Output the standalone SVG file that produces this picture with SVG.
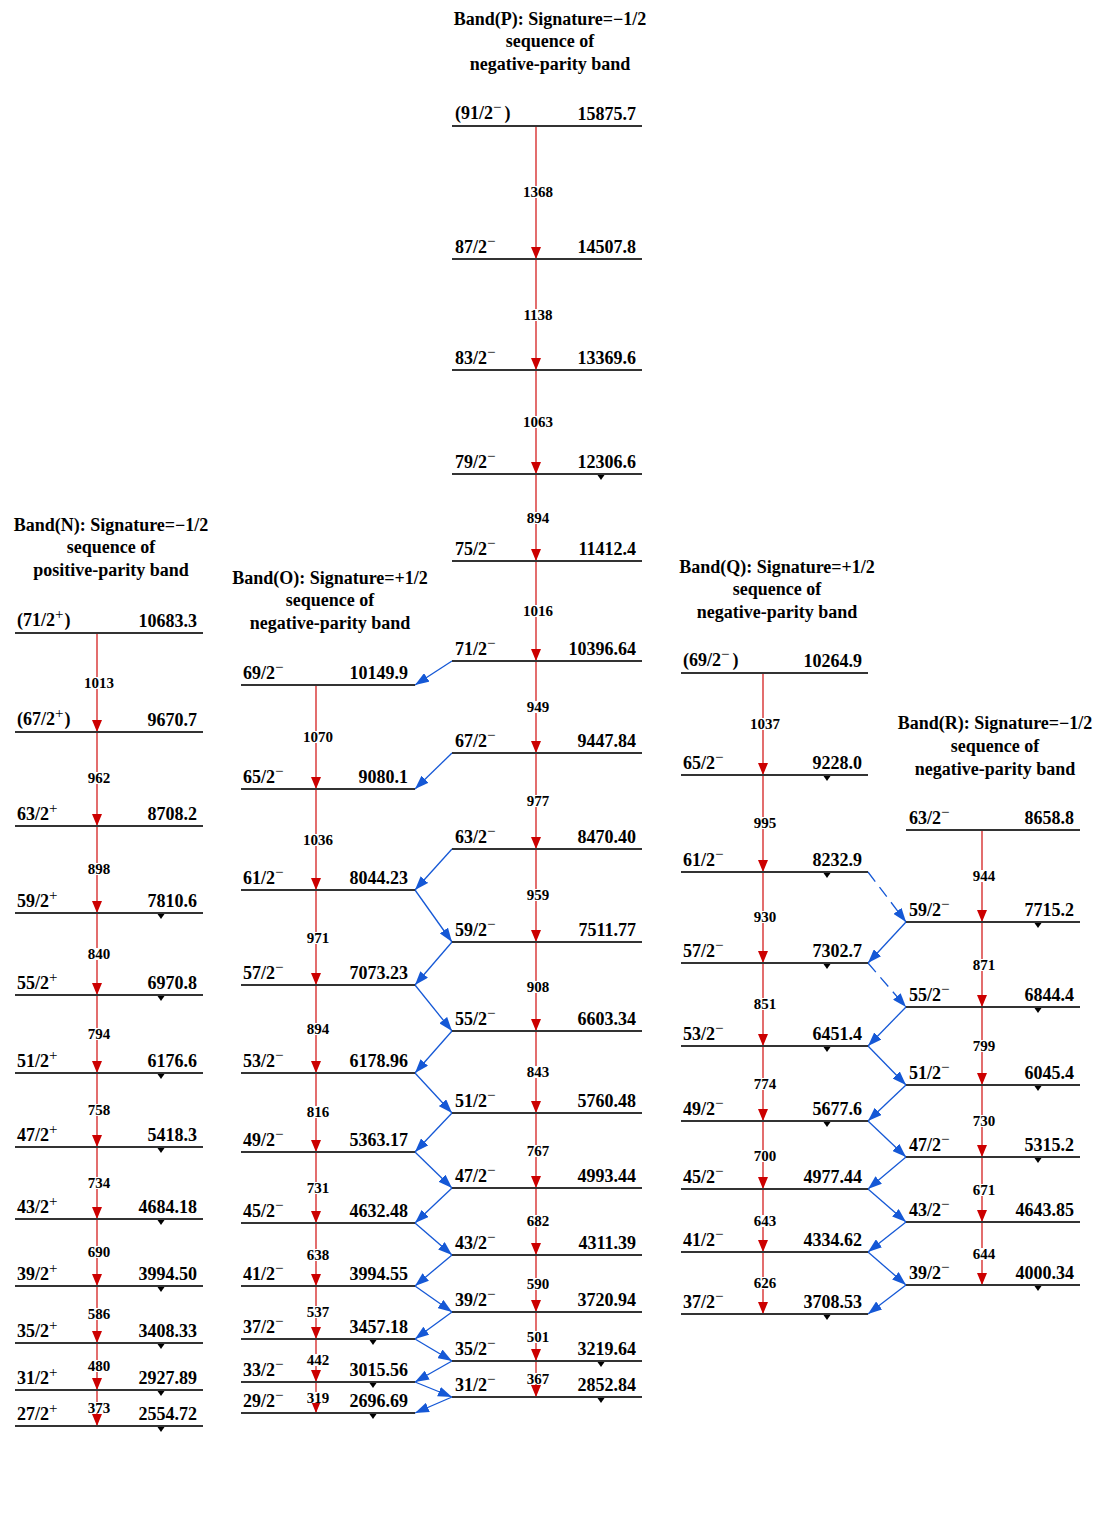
<svg xmlns="http://www.w3.org/2000/svg" xmlns:xlink="http://www.w3.org/1999/xlink" width="1098" height="1520" viewBox="0 0 1098 1520">
<style>
.t{font-family:"Liberation Serif","Times New Roman",serif;font-weight:bold;font-size:18px;fill:#000}
.ti{text-anchor:middle}
.e{text-anchor:end}
.s{font-size:15px;font-weight:normal}
.g{font-family:"Liberation Serif","Times New Roman",serif;font-weight:bold;font-size:15px;text-anchor:middle;fill:#000}
.lv{stroke:#333;stroke-width:1.8}
.rl{stroke:#d42020;stroke-width:1.3;marker-end:url(#rh)}
.bl{stroke:#1558d6;stroke-width:1.3;fill:none;marker-end:url(#bh)}
.dl{stroke-dasharray:12 7}
.wb{fill:#fff}
</style>
<defs>
<marker id="rh" viewBox="0 0 12 10" refX="12" refY="5" markerWidth="12" markerHeight="10" markerUnits="userSpaceOnUse" orient="auto"><path d="M0,0 L12,5 L0,10 Z" fill="#cc0000"/></marker>
<marker id="bh" viewBox="0 0 14 10" refX="14" refY="5" markerWidth="14" markerHeight="10" markerUnits="userSpaceOnUse" orient="auto"><path d="M0,0 L14,5 L0,10 Z" fill="#1558d6"/></marker>
<path id="tk" d="M-3.5,1 L3.5,1 L0,6 Z" fill="#000"/>
</defs>
<rect width="1098" height="1520" fill="#fff"/>

<g id="titles">
<g id="title-N"><text class="t ti" x="111" y="531">Band(N): Signature=−1/2</text><text class="t ti" x="111" y="553">sequence of</text><text class="t ti" x="111" y="576">positive-parity band</text></g>
<g id="title-O"><text class="t ti" x="330" y="584">Band(O): Signature=+1/2</text><text class="t ti" x="330" y="606">sequence of</text><text class="t ti" x="330" y="629">negative-parity band</text></g>
<g id="title-P"><text class="t ti" x="550" y="25">Band(P): Signature=−1/2</text><text class="t ti" x="550" y="47">sequence of</text><text class="t ti" x="550" y="70">negative-parity band</text></g>
<g id="title-Q"><text class="t ti" x="777" y="573">Band(Q): Signature=+1/2</text><text class="t ti" x="777" y="595">sequence of</text><text class="t ti" x="777" y="618">negative-parity band</text></g>
<g id="title-R"><text class="t ti" x="995" y="729">Band(R): Signature=−1/2</text><text class="t ti" x="995" y="752">sequence of</text><text class="t ti" x="995" y="775">negative-parity band</text></g>
</g>

<g id="connectors">
<!-- Band N -->
<line class="rl" x1="97" y1="633" x2="97" y2="732"/>
<line class="rl" x1="97" y1="732" x2="97" y2="826"/>
<line class="rl" x1="97" y1="826" x2="97" y2="913"/>
<line class="rl" x1="97" y1="913" x2="97" y2="995"/>
<line class="rl" x1="97" y1="995" x2="97" y2="1073"/>
<line class="rl" x1="97" y1="1073" x2="97" y2="1147"/>
<line class="rl" x1="97" y1="1147" x2="97" y2="1219"/>
<line class="rl" x1="97" y1="1219" x2="97" y2="1286"/>
<line class="rl" x1="97" y1="1286" x2="97" y2="1343"/>
<line class="rl" x1="97" y1="1343" x2="97" y2="1390"/>
<line class="rl" x1="97" y1="1390" x2="97" y2="1426"/>
<!-- Band O -->
<line class="rl" x1="316" y1="685" x2="316" y2="789"/>
<line class="rl" x1="316" y1="789" x2="316" y2="890"/>
<line class="rl" x1="316" y1="890" x2="316" y2="985"/>
<line class="rl" x1="316" y1="985" x2="316" y2="1073"/>
<line class="rl" x1="316" y1="1073" x2="316" y2="1152"/>
<line class="rl" x1="316" y1="1152" x2="316" y2="1223"/>
<line class="rl" x1="316" y1="1223" x2="316" y2="1286"/>
<line class="rl" x1="316" y1="1286" x2="316" y2="1339"/>
<line class="rl" x1="316" y1="1339" x2="316" y2="1382"/>
<line class="rl" x1="316" y1="1382" x2="316" y2="1413"/>
<!-- Band P -->
<line class="rl" x1="536" y1="126" x2="536" y2="259"/>
<line class="rl" x1="536" y1="259" x2="536" y2="370"/>
<line class="rl" x1="536" y1="370" x2="536" y2="474"/>
<line class="rl" x1="536" y1="474" x2="536" y2="561"/>
<line class="rl" x1="536" y1="561" x2="536" y2="661"/>
<line class="rl" x1="536" y1="661" x2="536" y2="753"/>
<line class="rl" x1="536" y1="753" x2="536" y2="849"/>
<line class="rl" x1="536" y1="849" x2="536" y2="942"/>
<line class="rl" x1="536" y1="942" x2="536" y2="1031"/>
<line class="rl" x1="536" y1="1031" x2="536" y2="1113"/>
<line class="rl" x1="536" y1="1113" x2="536" y2="1188"/>
<line class="rl" x1="536" y1="1188" x2="536" y2="1255"/>
<line class="rl" x1="536" y1="1255" x2="536" y2="1312"/>
<line class="rl" x1="536" y1="1312" x2="536" y2="1361"/>
<line class="rl" x1="536" y1="1361" x2="536" y2="1397"/>
<!-- Band Q -->
<line class="rl" x1="763" y1="673" x2="763" y2="775"/>
<line class="rl" x1="763" y1="775" x2="763" y2="872"/>
<line class="rl" x1="763" y1="872" x2="763" y2="963"/>
<line class="rl" x1="763" y1="963" x2="763" y2="1046"/>
<line class="rl" x1="763" y1="1046" x2="763" y2="1121"/>
<line class="rl" x1="763" y1="1121" x2="763" y2="1189"/>
<line class="rl" x1="763" y1="1189" x2="763" y2="1252"/>
<line class="rl" x1="763" y1="1252" x2="763" y2="1314"/>
<!-- Band R -->
<line class="rl" x1="982" y1="830" x2="982" y2="922"/>
<line class="rl" x1="982" y1="922" x2="982" y2="1007"/>
<line class="rl" x1="982" y1="1007" x2="982" y2="1085"/>
<line class="rl" x1="982" y1="1085" x2="982" y2="1157"/>
<line class="rl" x1="982" y1="1157" x2="982" y2="1222"/>
<line class="rl" x1="982" y1="1222" x2="982" y2="1285"/>

<!-- Blue O-P links -->
<line class="bl" x1="452" y1="661" x2="415" y2="685"/>
<line class="bl" x1="452" y1="753" x2="415" y2="789"/>
<line class="bl" x1="452" y1="849" x2="415" y2="890"/>
<line class="bl" x1="415" y1="890" x2="452" y2="942"/>
<line class="bl" x1="452" y1="942" x2="415" y2="985"/>
<line class="bl" x1="415" y1="985" x2="452" y2="1031"/>
<line class="bl" x1="452" y1="1031" x2="415" y2="1073"/>
<line class="bl" x1="415" y1="1073" x2="452" y2="1113"/>
<line class="bl" x1="452" y1="1113" x2="415" y2="1152"/>
<line class="bl" x1="415" y1="1152" x2="452" y2="1188"/>
<line class="bl" x1="452" y1="1188" x2="415" y2="1223"/>
<line class="bl" x1="415" y1="1223" x2="452" y2="1255"/>
<line class="bl" x1="452" y1="1255" x2="415" y2="1286"/>
<line class="bl" x1="415" y1="1286" x2="452" y2="1312"/>
<line class="bl" x1="452" y1="1312" x2="415" y2="1339"/>
<line class="bl" x1="415" y1="1339" x2="452" y2="1361"/>
<line class="bl" x1="452" y1="1361" x2="415" y2="1382"/>
<line class="bl" x1="415" y1="1382" x2="452" y2="1397"/>
<line class="bl" x1="452" y1="1397" x2="415" y2="1413"/>
<!-- Blue Q-R links -->
<line class="bl dl" x1="868" y1="872" x2="906" y2="922"/>
<line class="bl" x1="906" y1="922" x2="868" y2="963"/>
<line class="bl dl" x1="868" y1="963" x2="906" y2="1007"/>
<line class="bl" x1="906" y1="1007" x2="868" y2="1046"/>
<line class="bl" x1="868" y1="1046" x2="906" y2="1085"/>
<line class="bl" x1="906" y1="1085" x2="868" y2="1121"/>
<line class="bl" x1="868" y1="1121" x2="906" y2="1157"/>
<line class="bl" x1="906" y1="1157" x2="868" y2="1189"/>
<line class="bl" x1="868" y1="1189" x2="906" y2="1222"/>
<line class="bl" x1="906" y1="1222" x2="868" y2="1252"/>
<line class="bl" x1="868" y1="1252" x2="906" y2="1285"/>
<line class="bl" x1="906" y1="1285" x2="868" y2="1314"/>

<!-- Transition labels -->
<g id="labels-N">
<rect class="wb" x="83" y="677" width="32" height="12"/><text class="g" x="99" y="688">1013</text>
<rect class="wb" x="87" y="772" width="24" height="12"/><text class="g" x="99" y="783">962</text>
<rect class="wb" x="87" y="863" width="24" height="12"/><text class="g" x="99" y="874">898</text>
<rect class="wb" x="87" y="948" width="24" height="12"/><text class="g" x="99" y="959">840</text>
<rect class="wb" x="87" y="1028" width="24" height="12"/><text class="g" x="99" y="1039">794</text>
<rect class="wb" x="87" y="1104" width="24" height="12"/><text class="g" x="99" y="1115">758</text>
<rect class="wb" x="87" y="1177" width="24" height="12"/><text class="g" x="99" y="1188">734</text>
<rect class="wb" x="87" y="1246" width="24" height="12"/><text class="g" x="99" y="1257">690</text>
<rect class="wb" x="87" y="1308" width="24" height="12"/><text class="g" x="99" y="1319">586</text>
<rect class="wb" x="87" y="1360" width="24" height="12"/><text class="g" x="99" y="1371">480</text>
<rect class="wb" x="87" y="1402" width="24" height="11"/><text class="g" x="99" y="1413">373</text>
</g>
<g id="labels-O">
<rect class="wb" x="302" y="731" width="32" height="12"/><text class="g" x="318" y="742">1070</text>
<rect class="wb" x="302" y="834" width="32" height="12"/><text class="g" x="318" y="845">1036</text>
<rect class="wb" x="306" y="932" width="24" height="12"/><text class="g" x="318" y="943">971</text>
<rect class="wb" x="306" y="1023" width="24" height="12"/><text class="g" x="318" y="1034">894</text>
<rect class="wb" x="306" y="1106" width="24" height="12"/><text class="g" x="318" y="1117">816</text>
<rect class="wb" x="306" y="1182" width="24" height="12"/><text class="g" x="318" y="1193">731</text>
<rect class="wb" x="306" y="1249" width="24" height="12"/><text class="g" x="318" y="1260">638</text>
<rect class="wb" x="306" y="1306" width="24" height="12"/><text class="g" x="318" y="1317">537</text>
<rect class="wb" x="306" y="1354" width="24" height="12"/><text class="g" x="318" y="1365">442</text>
<rect class="wb" x="306" y="1392" width="24" height="11"/><text class="g" x="318" y="1403">319</text>
</g>
<g id="labels-P">
<rect class="wb" x="522" y="186" width="32" height="12"/><text class="g" x="538" y="197">1368</text>
<rect class="wb" x="522" y="309" width="32" height="12"/><text class="g" x="538" y="320">1138</text>
<rect class="wb" x="522" y="416" width="32" height="12"/><text class="g" x="538" y="427">1063</text>
<rect class="wb" x="526" y="512" width="24" height="12"/><text class="g" x="538" y="523">894</text>
<rect class="wb" x="522" y="605" width="32" height="12"/><text class="g" x="538" y="616">1016</text>
<rect class="wb" x="526" y="701" width="24" height="12"/><text class="g" x="538" y="712">949</text>
<rect class="wb" x="526" y="795" width="24" height="12"/><text class="g" x="538" y="806">977</text>
<rect class="wb" x="526" y="889" width="24" height="12"/><text class="g" x="538" y="900">959</text>
<rect class="wb" x="526" y="981" width="24" height="12"/><text class="g" x="538" y="992">908</text>
<rect class="wb" x="526" y="1066" width="24" height="12"/><text class="g" x="538" y="1077">843</text>
<rect class="wb" x="526" y="1145" width="24" height="12"/><text class="g" x="538" y="1156">767</text>
<rect class="wb" x="526" y="1215" width="24" height="12"/><text class="g" x="538" y="1226">682</text>
<rect class="wb" x="526" y="1278" width="24" height="12"/><text class="g" x="538" y="1289">590</text>
<rect class="wb" x="526" y="1331" width="24" height="12"/><text class="g" x="538" y="1342">501</text>
<rect class="wb" x="526" y="1373" width="24" height="11"/><text class="g" x="538" y="1384">367</text>
</g>
<g id="labels-Q">
<rect class="wb" x="749" y="718" width="32" height="12"/><text class="g" x="765" y="729">1037</text>
<rect class="wb" x="753" y="817" width="24" height="12"/><text class="g" x="765" y="828">995</text>
<rect class="wb" x="753" y="911" width="24" height="12"/><text class="g" x="765" y="922">930</text>
<rect class="wb" x="753" y="998" width="24" height="12"/><text class="g" x="765" y="1009">851</text>
<rect class="wb" x="753" y="1078" width="24" height="12"/><text class="g" x="765" y="1089">774</text>
<rect class="wb" x="753" y="1150" width="24" height="12"/><text class="g" x="765" y="1161">700</text>
<rect class="wb" x="753" y="1215" width="24" height="12"/><text class="g" x="765" y="1226">643</text>
<rect class="wb" x="753" y="1277" width="24" height="12"/><text class="g" x="765" y="1288">626</text>
</g>
<g id="labels-R">
<rect class="wb" x="972" y="870" width="24" height="12"/><text class="g" x="984" y="881">944</text>
<rect class="wb" x="972" y="959" width="24" height="12"/><text class="g" x="984" y="970">871</text>
<rect class="wb" x="972" y="1040" width="24" height="12"/><text class="g" x="984" y="1051">799</text>
<rect class="wb" x="972" y="1115" width="24" height="12"/><text class="g" x="984" y="1126">730</text>
<rect class="wb" x="972" y="1184" width="24" height="12"/><text class="g" x="984" y="1195">671</text>
<rect class="wb" x="972" y="1248" width="24" height="12"/><text class="g" x="984" y="1259">644</text>
</g>
</g>

<!-- Band N levels -->
<g id="N-71"><line class="lv" x1="15" y1="633" x2="203" y2="633"/><text class="t" x="17" y="626">(71/2<tspan class="s" dy="-7">+</tspan><tspan dx="1" dy="7">)</tspan></text><text class="t e" x="197" y="627">10683.3</text></g>
<g id="N-67"><line class="lv" x1="15" y1="732" x2="203" y2="732"/><text class="t" x="17" y="725">(67/2<tspan class="s" dy="-7">+</tspan><tspan dx="1" dy="7">)</tspan></text><text class="t e" x="197" y="726">9670.7</text></g>
<g id="N-63"><line class="lv" x1="15" y1="826" x2="203" y2="826"/><text class="t" x="17" y="820">63/2<tspan class="s" dy="-7">+</tspan></text><text class="t e" x="197" y="820">8708.2</text></g>
<g id="N-59"><line class="lv" x1="15" y1="913" x2="203" y2="913"/><text class="t" x="17" y="907">59/2<tspan class="s" dy="-7">+</tspan></text><text class="t e" x="197" y="907">7810.6</text><use href="#tk" x="161" y="913"/></g>
<g id="N-55"><line class="lv" x1="15" y1="995" x2="203" y2="995"/><text class="t" x="17" y="989">55/2<tspan class="s" dy="-7">+</tspan></text><text class="t e" x="197" y="989">6970.8</text><use href="#tk" x="161" y="995"/></g>
<g id="N-51"><line class="lv" x1="15" y1="1073" x2="203" y2="1073"/><text class="t" x="17" y="1067">51/2<tspan class="s" dy="-7">+</tspan></text><text class="t e" x="197" y="1067">6176.6</text><use href="#tk" x="161" y="1073"/></g>
<g id="N-47"><line class="lv" x1="15" y1="1147" x2="203" y2="1147"/><text class="t" x="17" y="1141">47/2<tspan class="s" dy="-7">+</tspan></text><text class="t e" x="197" y="1141">5418.3</text><use href="#tk" x="161" y="1147"/></g>
<g id="N-43"><line class="lv" x1="15" y1="1219" x2="203" y2="1219"/><text class="t" x="17" y="1213">43/2<tspan class="s" dy="-7">+</tspan></text><text class="t e" x="197" y="1213">4684.18</text><use href="#tk" x="161" y="1219"/></g>
<g id="N-39"><line class="lv" x1="15" y1="1286" x2="203" y2="1286"/><text class="t" x="17" y="1280">39/2<tspan class="s" dy="-7">+</tspan></text><text class="t e" x="197" y="1280">3994.50</text><use href="#tk" x="161" y="1286"/></g>
<g id="N-35"><line class="lv" x1="15" y1="1343" x2="203" y2="1343"/><text class="t" x="17" y="1337">35/2<tspan class="s" dy="-7">+</tspan></text><text class="t e" x="197" y="1337">3408.33</text><use href="#tk" x="161" y="1343"/></g>
<g id="N-31"><line class="lv" x1="15" y1="1390" x2="203" y2="1390"/><text class="t" x="17" y="1384">31/2<tspan class="s" dy="-7">+</tspan></text><text class="t e" x="197" y="1384">2927.89</text><use href="#tk" x="161" y="1390"/></g>
<g id="N-27"><line class="lv" x1="15" y1="1426" x2="203" y2="1426"/><text class="t" x="17" y="1420">27/2<tspan class="s" dy="-7">+</tspan></text><text class="t e" x="197" y="1420">2554.72</text><use href="#tk" x="161" y="1426"/></g>

<!-- Band O levels -->
<g id="O-69"><line class="lv" x1="241" y1="685" x2="415" y2="685"/><text class="t" x="243" y="679">69/2<tspan class="s" dy="-7">−</tspan></text><text class="t e" x="408" y="679">10149.9</text></g>
<g id="O-65"><line class="lv" x1="241" y1="789" x2="415" y2="789"/><text class="t" x="243" y="783">65/2<tspan class="s" dy="-7">−</tspan></text><text class="t e" x="408" y="783">9080.1</text></g>
<g id="O-61"><line class="lv" x1="241" y1="890" x2="415" y2="890"/><text class="t" x="243" y="884">61/2<tspan class="s" dy="-7">−</tspan></text><text class="t e" x="408" y="884">8044.23</text></g>
<g id="O-57"><line class="lv" x1="241" y1="985" x2="415" y2="985"/><text class="t" x="243" y="979">57/2<tspan class="s" dy="-7">−</tspan></text><text class="t e" x="408" y="979">7073.23</text></g>
<g id="O-53"><line class="lv" x1="241" y1="1073" x2="415" y2="1073"/><text class="t" x="243" y="1067">53/2<tspan class="s" dy="-7">−</tspan></text><text class="t e" x="408" y="1067">6178.96</text></g>
<g id="O-49"><line class="lv" x1="241" y1="1152" x2="415" y2="1152"/><text class="t" x="243" y="1146">49/2<tspan class="s" dy="-7">−</tspan></text><text class="t e" x="408" y="1146">5363.17</text></g>
<g id="O-45"><line class="lv" x1="241" y1="1223" x2="415" y2="1223"/><text class="t" x="243" y="1217">45/2<tspan class="s" dy="-7">−</tspan></text><text class="t e" x="408" y="1217">4632.48</text></g>
<g id="O-41"><line class="lv" x1="241" y1="1286" x2="415" y2="1286"/><text class="t" x="243" y="1280">41/2<tspan class="s" dy="-7">−</tspan></text><text class="t e" x="408" y="1280">3994.55</text></g>
<g id="O-37"><line class="lv" x1="241" y1="1339" x2="415" y2="1339"/><text class="t" x="243" y="1333">37/2<tspan class="s" dy="-7">−</tspan></text><text class="t e" x="408" y="1333">3457.18</text><use href="#tk" x="373" y="1339"/></g>
<g id="O-33"><line class="lv" x1="241" y1="1382" x2="415" y2="1382"/><text class="t" x="243" y="1376">33/2<tspan class="s" dy="-7">−</tspan></text><text class="t e" x="408" y="1376">3015.56</text><use href="#tk" x="373" y="1382"/></g>
<g id="O-29"><line class="lv" x1="241" y1="1413" x2="415" y2="1413"/><text class="t" x="243" y="1407">29/2<tspan class="s" dy="-7">−</tspan></text><text class="t e" x="408" y="1407">2696.69</text><use href="#tk" x="373" y="1413"/></g>

<!-- Band P levels -->
<g id="P-91"><line class="lv" x1="452" y1="126" x2="642" y2="126"/><text class="t" x="455" y="119">(91/2<tspan class="s" dy="-7">−</tspan><tspan dx="3" dy="7">)</tspan></text><text class="t e" x="636" y="120">15875.7</text></g>
<g id="P-87"><line class="lv" x1="452" y1="259" x2="642" y2="259"/><text class="t" x="455" y="253">87/2<tspan class="s" dy="-7">−</tspan></text><text class="t e" x="636" y="253">14507.8</text></g>
<g id="P-83"><line class="lv" x1="452" y1="370" x2="642" y2="370"/><text class="t" x="455" y="364">83/2<tspan class="s" dy="-7">−</tspan></text><text class="t e" x="636" y="364">13369.6</text></g>
<g id="P-79"><line class="lv" x1="452" y1="474" x2="642" y2="474"/><text class="t" x="455" y="468">79/2<tspan class="s" dy="-7">−</tspan></text><text class="t e" x="636" y="468">12306.6</text><use href="#tk" x="601" y="474"/></g>
<g id="P-75"><line class="lv" x1="452" y1="561" x2="642" y2="561"/><text class="t" x="455" y="555">75/2<tspan class="s" dy="-7">−</tspan></text><text class="t e" x="636" y="555">11412.4</text></g>
<g id="P-71"><line class="lv" x1="452" y1="661" x2="642" y2="661"/><text class="t" x="455" y="655">71/2<tspan class="s" dy="-7">−</tspan></text><text class="t e" x="636" y="655">10396.64</text></g>
<g id="P-67"><line class="lv" x1="452" y1="753" x2="642" y2="753"/><text class="t" x="455" y="747">67/2<tspan class="s" dy="-7">−</tspan></text><text class="t e" x="636" y="747">9447.84</text></g>
<g id="P-63"><line class="lv" x1="452" y1="849" x2="642" y2="849"/><text class="t" x="455" y="843">63/2<tspan class="s" dy="-7">−</tspan></text><text class="t e" x="636" y="843">8470.40</text></g>
<g id="P-59"><line class="lv" x1="452" y1="942" x2="642" y2="942"/><text class="t" x="455" y="936">59/2<tspan class="s" dy="-7">−</tspan></text><text class="t e" x="636" y="936">7511.77</text></g>
<g id="P-55"><line class="lv" x1="452" y1="1031" x2="642" y2="1031"/><text class="t" x="455" y="1025">55/2<tspan class="s" dy="-7">−</tspan></text><text class="t e" x="636" y="1025">6603.34</text></g>
<g id="P-51"><line class="lv" x1="452" y1="1113" x2="642" y2="1113"/><text class="t" x="455" y="1107">51/2<tspan class="s" dy="-7">−</tspan></text><text class="t e" x="636" y="1107">5760.48</text></g>
<g id="P-47"><line class="lv" x1="452" y1="1188" x2="642" y2="1188"/><text class="t" x="455" y="1182">47/2<tspan class="s" dy="-7">−</tspan></text><text class="t e" x="636" y="1182">4993.44</text></g>
<g id="P-43"><line class="lv" x1="452" y1="1255" x2="642" y2="1255"/><text class="t" x="455" y="1249">43/2<tspan class="s" dy="-7">−</tspan></text><text class="t e" x="636" y="1249">4311.39</text></g>
<g id="P-39"><line class="lv" x1="452" y1="1312" x2="642" y2="1312"/><text class="t" x="455" y="1306">39/2<tspan class="s" dy="-7">−</tspan></text><text class="t e" x="636" y="1306">3720.94</text></g>
<g id="P-35"><line class="lv" x1="452" y1="1361" x2="642" y2="1361"/><text class="t" x="455" y="1355">35/2<tspan class="s" dy="-7">−</tspan></text><text class="t e" x="636" y="1355">3219.64</text><use href="#tk" x="601" y="1361"/></g>
<g id="P-31"><line class="lv" x1="452" y1="1397" x2="642" y2="1397"/><text class="t" x="455" y="1391">31/2<tspan class="s" dy="-7">−</tspan></text><text class="t e" x="636" y="1391">2852.84</text><use href="#tk" x="601" y="1397"/></g>

<!-- Band Q levels -->
<g id="Q-69"><line class="lv" x1="681" y1="673" x2="868" y2="673"/><text class="t" x="683" y="666">(69/2<tspan class="s" dy="-7">−</tspan><tspan dx="3" dy="7">)</tspan></text><text class="t e" x="862" y="667">10264.9</text></g>
<g id="Q-65"><line class="lv" x1="681" y1="775" x2="868" y2="775"/><text class="t" x="683" y="769">65/2<tspan class="s" dy="-7">−</tspan></text><text class="t e" x="862" y="769">9228.0</text><use href="#tk" x="827" y="775"/></g>
<g id="Q-61"><line class="lv" x1="681" y1="872" x2="868" y2="872"/><text class="t" x="683" y="866">61/2<tspan class="s" dy="-7">−</tspan></text><text class="t e" x="862" y="866">8232.9</text><use href="#tk" x="827" y="872"/></g>
<g id="Q-57"><line class="lv" x1="681" y1="963" x2="868" y2="963"/><text class="t" x="683" y="957">57/2<tspan class="s" dy="-7">−</tspan></text><text class="t e" x="862" y="957">7302.7</text><use href="#tk" x="827" y="963"/></g>
<g id="Q-53"><line class="lv" x1="681" y1="1046" x2="868" y2="1046"/><text class="t" x="683" y="1040">53/2<tspan class="s" dy="-7">−</tspan></text><text class="t e" x="862" y="1040">6451.4</text><use href="#tk" x="827" y="1046"/></g>
<g id="Q-49"><line class="lv" x1="681" y1="1121" x2="868" y2="1121"/><text class="t" x="683" y="1115">49/2<tspan class="s" dy="-7">−</tspan></text><text class="t e" x="862" y="1115">5677.6</text><use href="#tk" x="827" y="1121"/></g>
<g id="Q-45"><line class="lv" x1="681" y1="1189" x2="868" y2="1189"/><text class="t" x="683" y="1183">45/2<tspan class="s" dy="-7">−</tspan></text><text class="t e" x="862" y="1183">4977.44</text></g>
<g id="Q-41"><line class="lv" x1="681" y1="1252" x2="868" y2="1252"/><text class="t" x="683" y="1246">41/2<tspan class="s" dy="-7">−</tspan></text><text class="t e" x="862" y="1246">4334.62</text></g>
<g id="Q-37"><line class="lv" x1="681" y1="1314" x2="868" y2="1314"/><text class="t" x="683" y="1308">37/2<tspan class="s" dy="-7">−</tspan></text><text class="t e" x="862" y="1308">3708.53</text><use href="#tk" x="827" y="1314"/></g>

<!-- Band R levels -->
<g id="R-63"><line class="lv" x1="906" y1="830" x2="1080" y2="830"/><text class="t" x="909" y="824">63/2<tspan class="s" dy="-7">−</tspan></text><text class="t e" x="1074" y="824">8658.8</text></g>
<g id="R-59"><line class="lv" x1="906" y1="922" x2="1080" y2="922"/><text class="t" x="909" y="916">59/2<tspan class="s" dy="-7">−</tspan></text><text class="t e" x="1074" y="916">7715.2</text><use href="#tk" x="1038" y="922"/></g>
<g id="R-55"><line class="lv" x1="906" y1="1007" x2="1080" y2="1007"/><text class="t" x="909" y="1001">55/2<tspan class="s" dy="-7">−</tspan></text><text class="t e" x="1074" y="1001">6844.4</text><use href="#tk" x="1038" y="1007"/></g>
<g id="R-51"><line class="lv" x1="906" y1="1085" x2="1080" y2="1085"/><text class="t" x="909" y="1079">51/2<tspan class="s" dy="-7">−</tspan></text><text class="t e" x="1074" y="1079">6045.4</text><use href="#tk" x="1038" y="1085"/></g>
<g id="R-47"><line class="lv" x1="906" y1="1157" x2="1080" y2="1157"/><text class="t" x="909" y="1151">47/2<tspan class="s" dy="-7">−</tspan></text><text class="t e" x="1074" y="1151">5315.2</text><use href="#tk" x="1038" y="1157"/></g>
<g id="R-43"><line class="lv" x1="906" y1="1222" x2="1080" y2="1222"/><text class="t" x="909" y="1216">43/2<tspan class="s" dy="-7">−</tspan></text><text class="t e" x="1074" y="1216">4643.85</text></g>
<g id="R-39"><line class="lv" x1="906" y1="1285" x2="1080" y2="1285"/><text class="t" x="909" y="1279">39/2<tspan class="s" dy="-7">−</tspan></text><text class="t e" x="1074" y="1279">4000.34</text><use href="#tk" x="1038" y="1285"/></g>
</svg>
